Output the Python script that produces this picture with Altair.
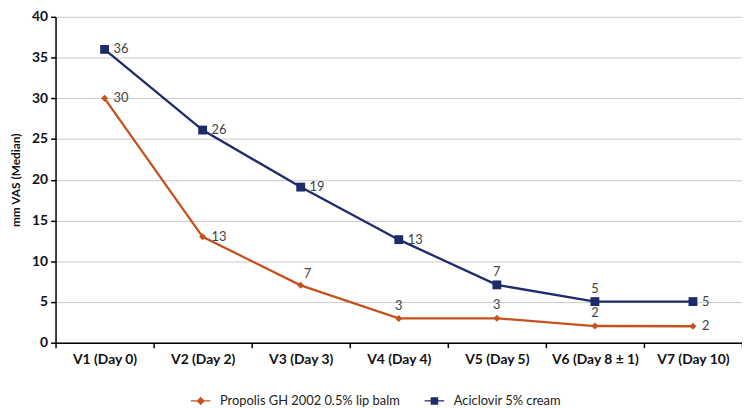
import altair as alt
import pandas as pd

visits = ["V1 (Day 0)", "V2 (Day 2)", "V3 (Day 3)", "V4 (Day 4)", "V5 (Day 5)", "V6 (Day 8 ± 1)", "V7 (Day 10)"]
series_names = ["Propolis GH 2002 0.5% lip balm", "Aciclovir 5% cream"]
propolis = [30, 13, 7.04, 2.98, 3.0, 2.05, 2.02]
propolis_labels = ["30", "13", "7", "3", "3", "2", "2"]
propolis_place = ["right", "right", "aboveright", "above", "above", "above", "right"]
aciclovir = [36, 26.1, 19.1, 12.65, 7.1, 5.05, 5.05]
aciclovir_labels = ["36", "26", "19", "13", "7", "5", "5"]
aciclovir_place = ["right", "right", "right", "right", "above", "above", "right"]
colors = ["#C5521E", "#1E2B6B"]

rows = []
for i, v in enumerate(visits):
    rows.append(dict(visit=v, series=series_names[0], value=propolis[i], label=propolis_labels[i], place=propolis_place[i]))
    rows.append(dict(visit=v, series=series_names[1], value=aciclovir[i], label=aciclovir_labels[i], place=aciclovir_place[i]))
df = pd.DataFrame(rows)

diamond_leg = "M-2.2,-0.13H2.2V0.13H-2.2Z M0,-0.95L0.95,0L0,0.95L-0.95,0Z"
square_leg = "M-2.2,-0.13H2.2V0.13H-2.2Z M-0.85,-0.85H0.85V0.85H-0.85Z"

x = alt.X("visit:N", sort=visits, title=None,
          scale=alt.Scale(paddingInner=0, paddingOuter=0),
          axis=alt.Axis(labelAngle=0, labelFont="Lato", labelFontWeight="bold", labelFontSize=14,
                        labelColor="#111", domainColor="#000", domainWidth=1.5, tickColor="#000",
                        tickWidth=1.5, tickSize=5, tickBand="extent", labelPadding=5, grid=False,
                        labelLimit=0))
y = alt.Y("value:Q", title="mm VAS (Median)",
          scale=alt.Scale(domain=[0, 40], nice=False),
          axis=alt.Axis(values=list(range(0, 41, 5)), labelFont="Lato", labelFontWeight="bold", labelFontSize=14,
                        labelColor="#111", titleFont="Lato", titleFontWeight="bold", titleFontSize=12,
                        titleColor="#111", titlePadding=9, domainColor="#000", domainWidth=1.5,
                        tickColor="#000", tickWidth=1.5, tickSize=5, labelPadding=3,
                        grid=True, gridColor="#c8c8c8", gridWidth=1))
cscale = alt.Scale(domain=series_names, range=colors)

leg = alt.Legend(title=None, orient="none", legendX=140, legendY=381, direction="horizontal",
                 labelFont="Lato", labelFontSize=13, labelColor="#222", labelLimit=0,
                 symbolSize=80, symbolStrokeWidth=0, symbolOpacity=1, columnPadding=24,
                 labelOffset=13)

base = alt.Chart(df)
lines = base.mark_line(strokeWidth=2.3).encode(
    x=x, y=y, color=alt.Color("series:N", scale=cscale, legend=None), detail="series:N")
pts_p = base.transform_filter(alt.datum.series == series_names[0]).mark_point(
    shape="diamond", filled=True, size=50, opacity=1).encode(
    x=x, y=y, color=alt.Color("series:N", scale=cscale, legend=None))
pts_a = base.transform_filter(alt.datum.series == series_names[1]).mark_point(
    shape="square", filled=True, size=80, opacity=1).encode(
    x=x, y=y, color=alt.Color("series:N", scale=cscale, legend=None))

legend_layer = base.transform_filter("false").mark_point(filled=True).encode(
    x=x, y=y,
    color=alt.Color("series:N", sort=series_names, scale=cscale, legend=leg),
    shape=alt.Shape("series:N", sort=series_names,
                    scale=alt.Scale(domain=series_names, range=[diamond_leg, square_leg]), legend=leg),
)

txt_right = base.transform_filter(alt.datum.place == "right").mark_text(
    align="left", baseline="middle", dx=9, font="Lato", fontSize=13, color="#444").encode(x=x, y=y, text="label:N")
txt_above = base.transform_filter(alt.datum.place == "above").mark_text(
    align="center", baseline="bottom", dy=-6, font="Lato", fontSize=13, color="#444").encode(x=x, y=y, text="label:N")
txt_ar = base.transform_filter(alt.datum.place == "aboveright").mark_text(
    align="left", baseline="bottom", dx=3, dy=-4, font="Lato", fontSize=13, color="#444").encode(x=x, y=y, text="label:N")

chart = alt.layer(lines, pts_p, pts_a, legend_layer, txt_right, txt_above, txt_ar).resolve_legend(
    color="independent", shape="independent"
).properties(
    width=693, height=329,
    autosize=alt.AutoSizeParams(type="none"),
    padding={"left": 48, "top": 7, "right": 0, "bottom": 64},
).configure_view(stroke=None)

chart.save("out.html", embed_options={"renderer": "svg", "actions": False})
